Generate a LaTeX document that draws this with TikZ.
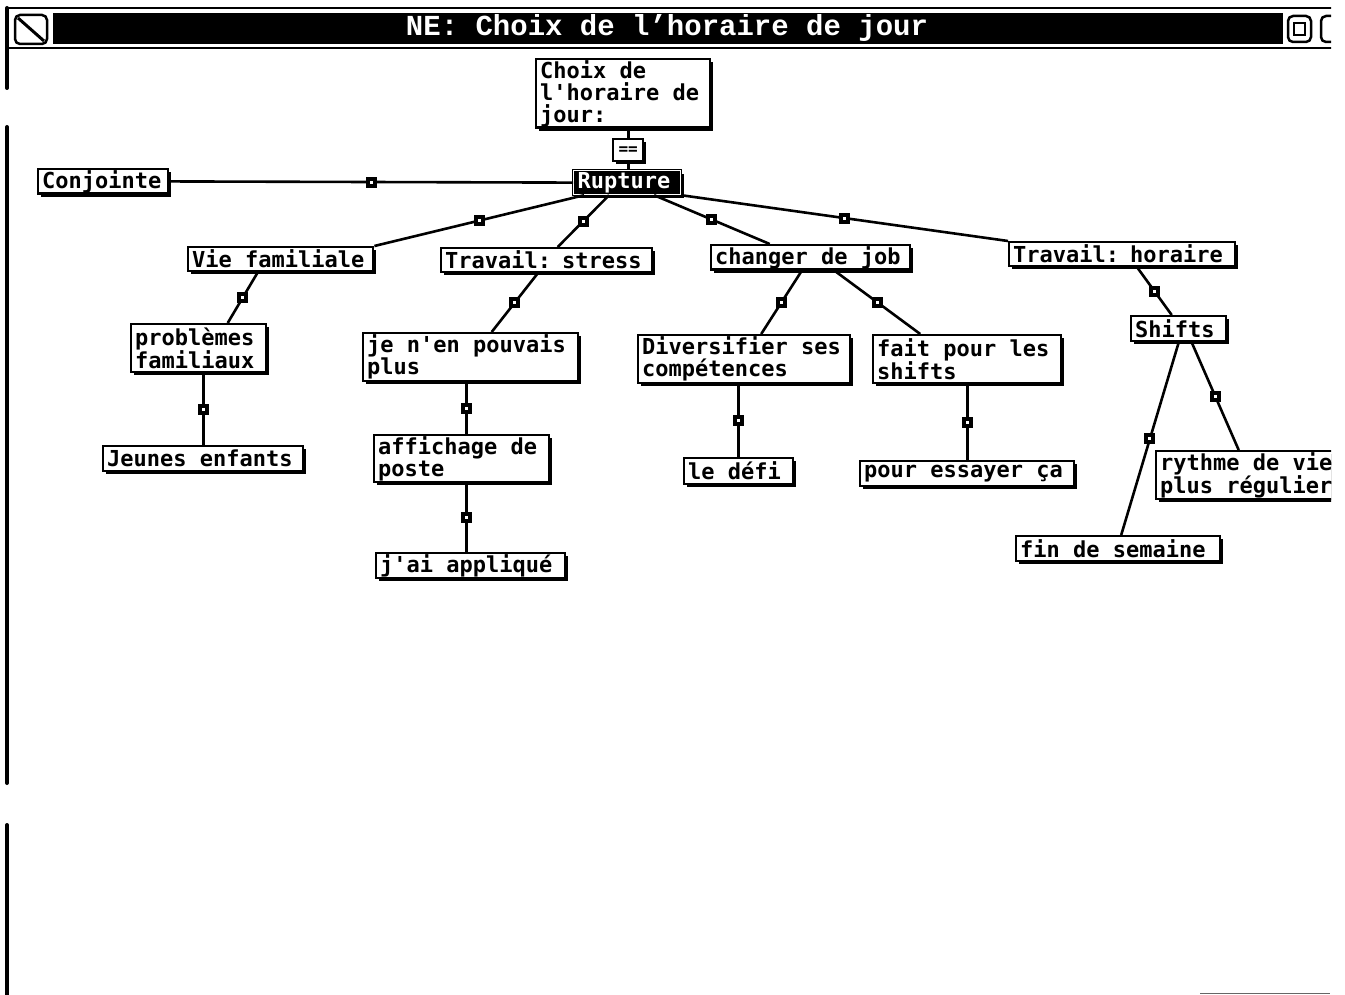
\documentclass[tikz,border=0pt]{standalone}
\usepackage{fontspec}
\usetikzlibrary{shadows}
\newfontfamily\boxfont{DejaVu Sans Mono}[WordSpace={1,0,0}]
\newfontfamily\titlefont{Liberation Mono}
\newcommand\boxtext{\boxfont\bfseries\fontsize{22}{22}\selectfont}

\tikzset{
  box/.style={draw=black, line width=2.4pt, fill=white, anchor=north west,
    inner xsep=4pt, inner ysep=1pt, align=left, font=\boxtext,
    execute at begin node={\spaceskip=13.24pt plus 0pt minus 0pt\relax},
    general shadow={fill=black, shadow xshift=3pt, shadow yshift=-3pt}},
  conn/.style={draw=black, line width=2.6pt},
  handle/.style={rectangle, draw=black, fill=white, line width=4pt,
    minimum size=7pt, inner sep=0pt},
  frame/.style={line width=4pt, line cap=round},
}

\begin{document}
\begin{tikzpicture}[x=1pt, y=-1pt]
\useasboundingbox (0,0) rectangle (1345,995);
\clip (0,0) rectangle (1331,995);

% window frame and title bar
\draw[line width=2.5pt] (6,8) -- (1345,8);
\draw[line width=2.5pt] (6,48) -- (1345,48);
\fill[black] (53,13) rectangle (1283,44);
\node[font=\titlefont\bfseries\fontsize{29}{29}\selectfont, text=white, inner sep=0pt]
  (title) at (667,28) {NE: Choix de l’horaire de jour};
% close box
\draw[line width=2.5pt, rounded corners=5pt] (15,15) rectangle (47,44);
\draw[line width=3pt] (18,18) -- (44,41);
% zoom boxes
\draw[line width=2.5pt, rounded corners=5pt] (1288,16) rectangle (1311,42);
\draw[line width=2.5pt] (1294,23) rectangle (1305,35);
\draw[line width=2.5pt, rounded corners=5pt] (1321,16) rectangle (1350,42);
% left border
\draw[frame] (7,8) -- (7,88);
\draw[frame] (7,127) -- (7,783);
\draw[frame] (7,825) -- (7,995);
\draw[black!60, line width=1pt] (1200,993) -- (1330,993);

% nodes
\node[box, text width=166pt, minimum height=66pt] (choix) at (535,58) {Choix de\\l'horaire de\\jour:};
\node[box, align=center, minimum width=30pt, minimum height=22pt, inner sep=0pt,
  font=\boxfont\bfseries\fontsize{16}{16}\selectfont] (eq) at (612,138) {==};
\node[box, fill=black, text=white, line width=1.2pt, double=white, double distance=1pt,
  text width=99pt, minimum height=24pt] (rup) at (573,170) {Rupture};
\node[box, text width=122pt, minimum height=24pt] (conj) at (37,168) {Conjointe};

\node[box, text width=177pt, minimum height=24pt] (vie) at (187,246) {Vie familiale};
\node[box, text width=203pt, minimum height=24pt] (stress) at (440,247) {Travail: stress};
\node[box, text width=191pt, minimum height=24pt] (job) at (710,244) {changer de job};
\node[box, text width=218pt, minimum height=24pt] (hor) at (1008,241) {Travail: horaire};

\node[box, text width=127pt, minimum height=48pt] (prob) at (130,323) {problèmes\\familiaux};
\node[box, text width=207pt, minimum height=48pt] (jen) at (362,332) {je n'en pouvais\\plus};
\node[box, text width=204pt, minimum height=48pt] (div) at (637,334) {Diversifier ses\\compétences};
\node[box, text width=180pt, minimum height=48pt] (fait) at (872,334) {fait pour les\\shifts};
\node[box, text width=87pt, minimum height=25pt] (shi) at (1130,315) {Shifts};

\node[box, text width=192pt, minimum height=25pt] (jeu) at (102,445) {Jeunes enfants};
\node[box, text width=167pt, minimum height=47pt] (aff) at (373,434) {affichage de\\poste};
\node[box, text width=181pt, minimum height=25pt] (jai) at (375,552) {j'ai appliqué};
\node[box, text width=101pt, minimum height=26pt] (defi) at (683,457) {le défi};
\node[box, text width=206pt, minimum height=25pt] (pour) at (859,460) {pour essayer ça};
\node[box, text width=207pt, minimum height=48pt] (ryt) at (1155,450) {rythme de vie\\plus régulier};
\node[box, text width=196pt, minimum height=25pt] (fin) at (1015,535) {fin de semaine};

% connectors
\draw[conn] (eq.north |- choix.south) -- (eq.north);
\draw[conn] (eq.south) -- (eq.south |- rup.north);
\draw[conn] (conj.east) -- node[handle]{} (rup.west);
\draw[conn] ([xshift=-43pt]rup.south) -- node[handle]{} (vie.north east);
\draw[conn] ([xshift=-18pt]rup.south) -- node[handle]{} ([xshift=11pt]stress.north);
\draw[conn] ([xshift=27pt]rup.south) -- node[handle]{} ([xshift=-41pt]job.north);
\draw[conn] (rup.south east) -- node[handle]{} (hor.north west);

\draw[conn] ([xshift=-23pt]vie.south) -- node[handle]{} ([xshift=29pt]prob.north);
\draw[conn] ([xshift=-9pt]stress.south) -- node[handle]{} ([xshift=21pt]jen.north);
\draw[conn] ([xshift=-9pt]job.south) -- node[handle]{} ([xshift=17pt]div.north);
\draw[conn] ([xshift=24pt]job.south) -- node[handle]{} ([xshift=-47pt]fait.north);
\draw[conn] ([xshift=15pt]hor.south) -- node[handle]{} ([xshift=-7pt]shi.north);
\draw[conn] (shi.south) -- node[handle]{} ([xshift=3pt]fin.north);
\draw[conn] ([xshift=13pt]shi.south) -- node[handle]{} ([xshift=-25pt]ryt.north);

\draw[conn] (jeu.north |- prob.south) -- node[handle]{} (jeu.north);
\draw[conn] ([xshift=5pt]aff.north |- jen.south) -- node[handle]{} ([xshift=5pt]aff.north);
\draw[conn] ([xshift=-4pt]jai.north |- aff.south) -- node[handle]{} ([xshift=-4pt]jai.north);
\draw[conn] (defi.north |- div.south) -- node[handle]{} (defi.north);
\draw[conn] (pour.north |- fait.south) -- node[handle]{} (pour.north);
\end{tikzpicture}
\end{document}
